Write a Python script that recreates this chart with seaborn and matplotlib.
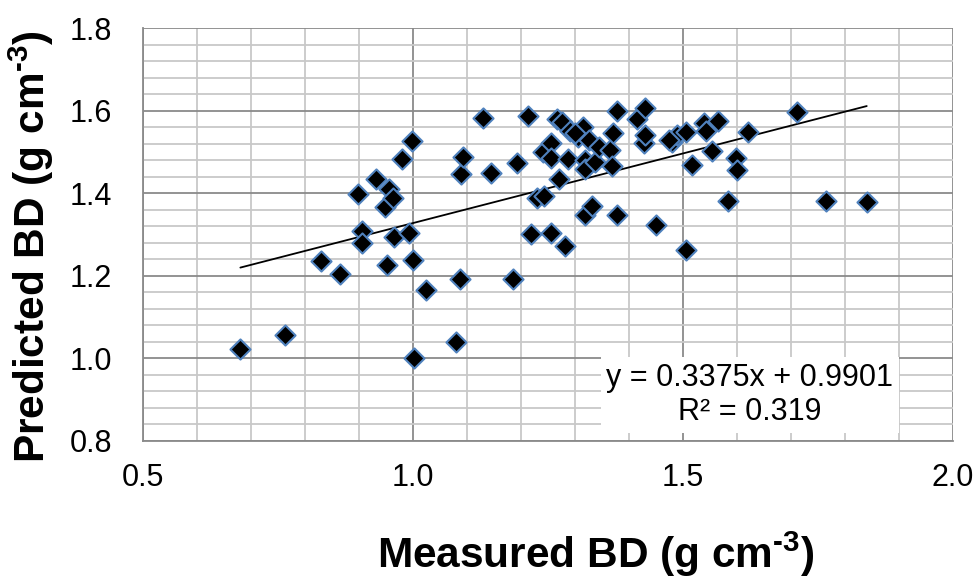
import numpy as np
import pandas as pd
import matplotlib
matplotlib.use('Agg')
import matplotlib.pyplot as plt
from matplotlib.ticker import MultipleLocator, FormatStrFormatter
import seaborn as sns

# Measured vs predicted bulk density
measured = [0.681, 0.763, 0.831, 0.865, 0.898, 0.907, 0.907, 0.933, 0.948, 0.957,
            0.963, 0.952, 0.965, 0.981, 0.998, 0.993, 1.000, 1.002, 1.024, 1.080,
            1.087, 1.089, 1.093, 1.130, 1.146, 1.185, 1.193, 1.213, 1.219, 1.231,
            1.244, 1.241, 1.256, 1.257, 1.257, 1.267, 1.272, 1.276, 1.283, 1.287,
            1.291, 1.306, 1.315, 1.319, 1.320, 1.319, 1.326, 1.333, 1.337, 1.346,
            1.365, 1.369, 1.371, 1.378, 1.378, 1.415, 1.428, 1.430, 1.431, 1.450,
            1.480, 1.489, 1.507, 1.507, 1.517, 1.539, 1.544, 1.565, 1.554, 1.598,
            1.600, 1.622, 1.711, 1.585, 1.765, 1.841, 1.300, 1.475]
predicted = [1.023, 1.057, 1.236, 1.204, 1.398, 1.308, 1.279, 1.434, 1.367, 1.410,
             1.388, 1.226, 1.294, 1.483, 1.526, 1.304, 1.238, 1.000, 1.166, 1.040,
             1.192, 1.446, 1.488, 1.582, 1.449, 1.192, 1.473, 1.587, 1.301, 1.388,
             1.393, 1.500, 1.304, 1.522, 1.485, 1.580, 1.434, 1.572, 1.272, 1.483,
             1.551, 1.536, 1.560, 1.480, 1.459, 1.347, 1.529, 1.369, 1.476, 1.512,
             1.505, 1.466, 1.546, 1.599, 1.347, 1.580, 1.522, 1.541, 1.606, 1.323,
             1.524, 1.541, 1.548, 1.262, 1.468, 1.570, 1.551, 1.575, 1.502, 1.485,
             1.456, 1.548, 1.597, 1.381, 1.381, 1.379, 1.545, 1.530]

# Linear trendline reported on the chart
slope = 0.3375
intercept = 0.9901
r_squared = 0.319

df = pd.DataFrame({'measured': measured, 'predicted': predicted})

sns.set_style('white')
plt.rcParams['font.family'] = ['Liberation Sans', 'DejaVu Sans']
plt.rcParams['mathtext.fontset'] = 'custom'
plt.rcParams['mathtext.rm'] = 'Liberation Sans'
plt.rcParams['mathtext.bf'] = 'Liberation Sans:bold'
plt.rcParams['text.color'] = 'black'
plt.rcParams['axes.labelcolor'] = 'black'

fig = plt.figure(figsize=(9.77, 5.77), dpi=100)
ax = fig.add_axes([0.146, 0.236, 0.829, 0.715])

ax.set_xlim(0.5, 2.0)
ax.set_ylim(0.8, 1.8)
ax.xaxis.set_major_locator(MultipleLocator(0.5))
ax.xaxis.set_minor_locator(MultipleLocator(0.1))
ax.yaxis.set_major_locator(MultipleLocator(0.2))
ax.yaxis.set_minor_locator(MultipleLocator(0.04))
ax.xaxis.set_major_formatter(FormatStrFormatter('%.1f'))
ax.yaxis.set_major_formatter(FormatStrFormatter('%.1f'))

ax.grid(which='minor', color='#c8c8c8', linewidth=1.3, zorder=0)
ax.grid(which='major', color='#8a8a8a', linewidth=1.3, zorder=0)
ax.set_axisbelow(True)

for side in ['top', 'right']:
    ax.spines[side].set_visible(False)
for side in ['left', 'bottom']:
    ax.spines[side].set_color('#8a8a8a')
    ax.spines[side].set_linewidth(1.3)

ax.tick_params(which='major', direction='inout', length=10, width=1.3,
               color='#8a8a8a', labelcolor='black', labelsize=22)
ax.tick_params(which='minor', direction='in', length=5, width=1.3, color='#8a8a8a')
ax.tick_params(axis='x', which='major', pad=11)
ax.tick_params(axis='y', which='major', pad=17)

# trendline over the range of the measured data
xs = np.array([min(measured), max(measured)])
ax.plot(xs, slope * xs + intercept, color='black', linewidth=1.3, zorder=2)

sns.scatterplot(data=df, x='measured', y='predicted', marker='D', s=105,
                color='black', edgecolor='#4f81bd', linewidth=1.5, zorder=3, ax=ax)

ax.text(1.624, 0.911, f'y = {slope}x + {intercept}\nR² = {r_squared}',
        ha='center', va='center', fontsize=22, linespacing=1.18, color='black',
        bbox=dict(facecolor='white', edgecolor='none', pad=4), zorder=4)

ax.set_xlabel('Measured BD (g cm$^{\\mathbf{\u20103}}$)', fontsize=30.5, fontweight='bold')
ax.set_ylabel('Predicted BD (g cm$^{\\mathbf{\u20103}}$)', fontsize=30.5, fontweight='bold')
ax.xaxis.set_label_coords(0.559, -0.215)
ax.yaxis.set_label_coords(-0.107, 0.471)

fig.savefig('out.png', dpi=100)
